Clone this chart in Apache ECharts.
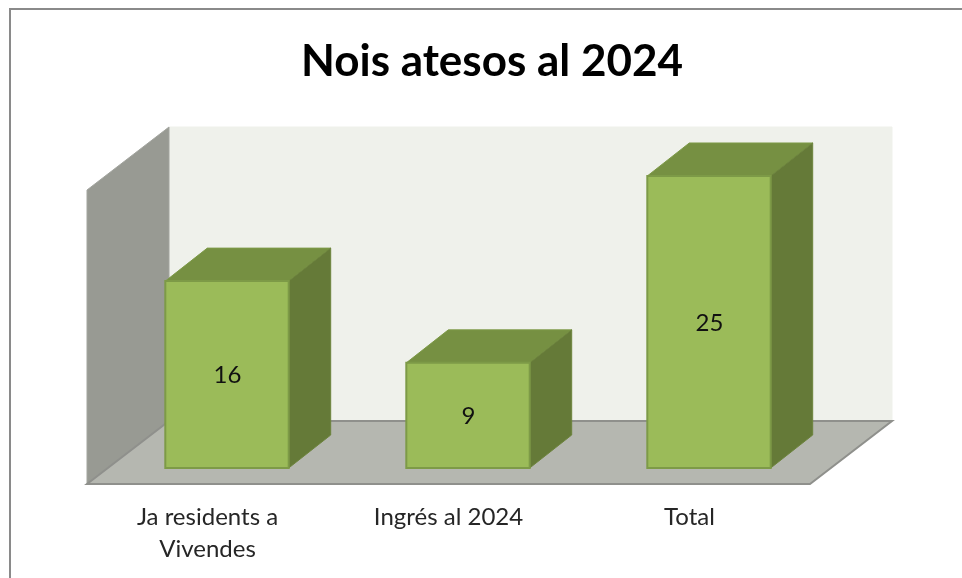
<!DOCTYPE html>
<html>
<head>
<meta charset="utf-8">
<title>Nois atesos al 2024</title>
<script src="https://cdn.jsdelivr.net/npm/echarts@6/dist/echarts.min.js"></script>
<style>
  html, body { margin: 0; padding: 0; background: #fff; }
  #grafico { width: 962px; height: 578px; }
</style>
</head>
<body>
<div id="grafico"></div>
<script>
// Dades del gràfic
const categories = ['Ja residents a\nVivendes', 'Ingrés al 2024', 'Total'];
const valors = [16, 9, 25];
const titol = 'Nois atesos al 2024';

// Perspectiva de la caixa 3D (en píxels)
const fonsX = 82, fonsY = 63;     // profunditat de parets i terra
const marcaX = 20, marcaY = 16;   // separació de la barra respecte la vora del terra
const barraX = 42, barraY = 33;   // profunditat de la barra

function poligon(punts, fill, stroke, lineWidth) {
    return {
        type: 'polygon',
        shape: { points: punts },
        style: { fill: fill, stroke: stroke || fill, lineWidth: lineWidth || 1 }
    };
}

// Parets i terra
function dibuixaFons(params) {
    const c = params.coordSys;
    const esq = c.x, dre = c.x + c.width, dalt = c.y, baix = c.y + c.height;
    return {
        type: 'group',
        children: [
            poligon([[esq + fonsX, dalt - fonsY], [dre + fonsX, dalt - fonsY], [dre + fonsX, baix - fonsY], [esq + fonsX, baix - fonsY]], '#eff1eb', '#eff1eb'),
            poligon([[esq, dalt], [esq + fonsX, dalt - fonsY], [esq + fonsX, baix - fonsY], [esq, baix]], '#989a93', '#a3a59f'),
            poligon([[esq, baix], [esq + fonsX, baix - fonsY], [dre + fonsX, baix - fonsY], [dre, baix]], '#b5b7b0', '#8f908c', 2)
        ]
    };
}

// Barra 3D: cara frontal, tapa i lateral
function dibuixaBarra(params, api) {
    const dalt = api.coord([api.value(0), api.value(1)]);
    const baix = api.coord([api.value(0), 0]);
    const ample = api.size([1, 0])[0] * 0.512;
    const x0 = dalt[0] - ample / 2 + marcaX - 0.5, x1 = x0 + ample;
    const y0 = dalt[1] - marcaY, y1 = baix[1] - marcaY;
    return {
        type: 'group',
        children: [
            poligon([[x0, y0], [x0 + barraX, y0 - barraY], [x1 + barraX, y0 - barraY], [x1, y0]], '#769042', '#7d9a47'),
            poligon([[x1, y0], [x1 + barraX, y0 - barraY], [x1 + barraX, y1 - barraY], [x1, y1]], '#657a38', '#6d843d'),
            poligon([[x0, y0], [x1, y0], [x1, y1], [x0, y1]], '#9bbb59', '#7d9a47', 2),
            {
                type: 'text',
                style: {
                    x: (x0 + x1) / 2 + 0.5,
                    y: (y0 + y1) / 2 + 1,
                    text: String(api.value(1)),
                    fill: '#111111',
                    font: '24px Lato',
                    align: 'center',
                    verticalAlign: 'middle'
                }
            }
        ]
    };
}

const grafico = echarts.init(document.getElementById('grafico'));
grafico.setOption({
    animation: false,
    backgroundColor: '#ffffff',
    title: {
        text: titol,
        left: 492,
        top: 62,
        padding: 0,
        textAlign: 'center',
        textVerticalAlign: 'middle',
        textStyle: { fontFamily: 'Lato', fontWeight: 'bold', fontSize: 44, color: '#000000' }
    },
    // Marc del gràfic, talla per la dreta i per baix
    graphic: [{
        type: 'rect',
        silent: true,
        shape: { x: 10, y: 9, width: 1000, height: 1000 },
        style: { fill: 'transparent', stroke: '#8a8a8a', lineWidth: 2 }
    }],
    grid: { left: 87, right: 152, top: 190, bottom: 94 },
    xAxis: {
        type: 'category',
        data: categories,
        axisLine: { show: false },
        axisTick: { show: false },
        axisLabel: {
            interval: 0,
            margin: 17,
            lineHeight: 32,
            fontFamily: 'Lato',
            fontSize: 24,
            color: '#262626'
        }
    },
    yAxis: { type: 'value', min: 0, max: 25.17, show: false, splitLine: { show: false } },
    series: [
        { type: 'custom', renderItem: dibuixaFons, data: [[0, 0]], clip: false, silent: true, z: 1 },
        { type: 'custom', renderItem: dibuixaBarra, data: valors.map((v, i) => [i, v]), encode: { x: 0, y: 1 }, clip: false, z: 2 }
    ]
});
</script>
</body>
</html>
